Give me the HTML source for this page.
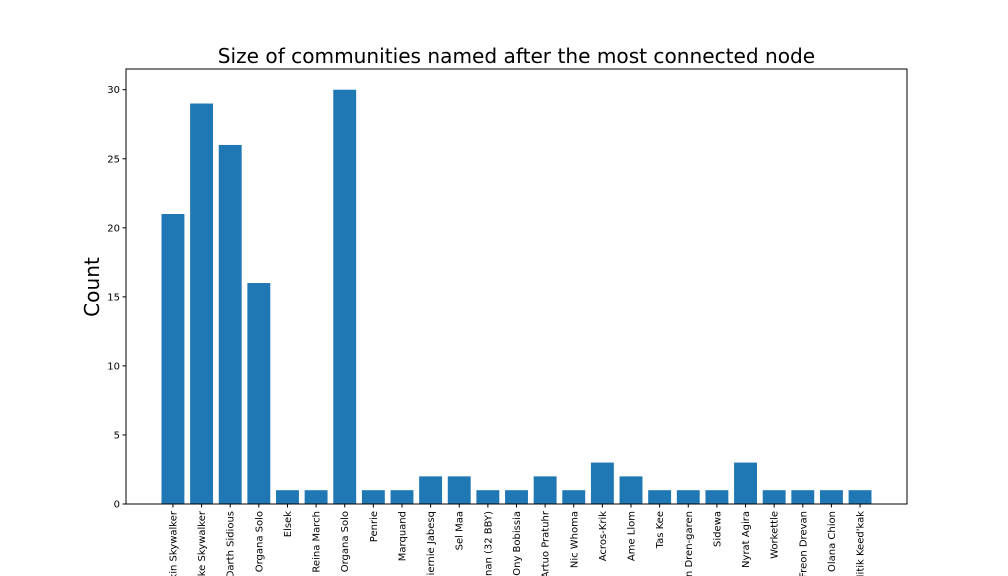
<!DOCTYPE html>
<html><head><meta charset="utf-8"><style>
html,body{margin:0;padding:0;background:#fff;}
svg{display:block;font-family:"DejaVu Sans","Liberation Sans",sans-serif;}
</style></head><body>
<svg id="chart" width="1008" height="576" viewBox="0 0 1008 576">
<rect width="1008" height="576" fill="#fff"/>
<text x="516.5" y="63" font-size="20.1" text-anchor="middle" fill="#000">Size of communities named after the most connected node</text>
<text transform="translate(99,287) rotate(-90)" font-size="20.1" text-anchor="middle" fill="#000">Count</text>
<g id="bars"></g>
<g id="yticks"></g>
<g id="xticks"></g>
<rect x="126" y="69" width="781" height="435" fill="none" stroke="#000" stroke-width="1"/>
</svg>
<script>
const cats = ["Anakin Skywalker","Luke Skywalker","Darth Sidious","Leia Organa Solo","Elsek","Reina March","Ben Organa Solo","Penrie","Marquand","Giernie Jabesq","Sel Maa","Kanan (32 BBY)","Ony Bobissia","Artuo Pratuhr","Nic Whoma","Acros-Krik","Ame Llom","Tas Kee","Fan Dren-garen","Sidewa","Nyrat Agira","Workettle","Freon Drevan","Olana Chion","Hitik Keed'kak"];
const counts = [21,29,26,16,1,1,30,1,1,2,2,1,1,2,1,3,2,1,1,1,3,1,1,1,1];
const yTicks = [0,5,10,15,20,25,30];
const NS="http://www.w3.org/2000/svg";
const pL=126,pR=907,pT=69,pB=504;
const yMax=31.5;
function ys(v){return pB-(v/yMax)*(pB-pT);}
const n=counts.length;
const span=(n-1)+0.8;
const xMin=-0.4-span*0.05, xMax=(n-1)+0.4+span*0.05;
function xs(i){return pL+(i-xMin)/(xMax-xMin)*(pR-pL);}
const bw=0.8*(pR-pL)/(xMax-xMin);
const bars=document.getElementById('bars');
counts.forEach((v,i)=>{
 const r=document.createElementNS(NS,'rect');
 r.setAttribute('x',xs(i)-bw/2);r.setAttribute('y',ys(v));
 r.setAttribute('width',bw);r.setAttribute('height',ys(0)-ys(v));
 r.setAttribute('fill','#1f77b4');
 
 
 bars.appendChild(r);
});
const yt=document.getElementById('yticks');
yTicks.forEach(t=>{
 const l=document.createElementNS(NS,'line');
 l.setAttribute('x1',pL-3.5);l.setAttribute('x2',pL);l.setAttribute('y1',ys(t));l.setAttribute('y2',ys(t));l.setAttribute('stroke','#000');
 
 
 yt.appendChild(l);
 const tx=document.createElementNS(NS,'text');
 tx.setAttribute('x',pL-6);tx.setAttribute('y',ys(t)+3.5);tx.setAttribute('font-size','10');tx.setAttribute('text-anchor','end');
 tx.textContent=t;
 
 
 yt.appendChild(tx);
});
const xt=document.getElementById('xticks');
counts.forEach((v,i)=>{
 const l=document.createElementNS(NS,'line');
 l.setAttribute('x1',xs(i));l.setAttribute('x2',xs(i));l.setAttribute('y1',pB);l.setAttribute('y2',pB+3.5);l.setAttribute('stroke','#000');
 
 
 xt.appendChild(l);
 const tx=document.createElementNS(NS,'text');
 tx.setAttribute('transform','translate('+(xs(i)+3.5)+','+(pB+7)+') rotate(-90)');
 tx.setAttribute('font-size','10');tx.setAttribute('text-anchor','end');
 tx.textContent=cats[i];
 
 
 xt.appendChild(tx);
});
</script>
</body></html>
